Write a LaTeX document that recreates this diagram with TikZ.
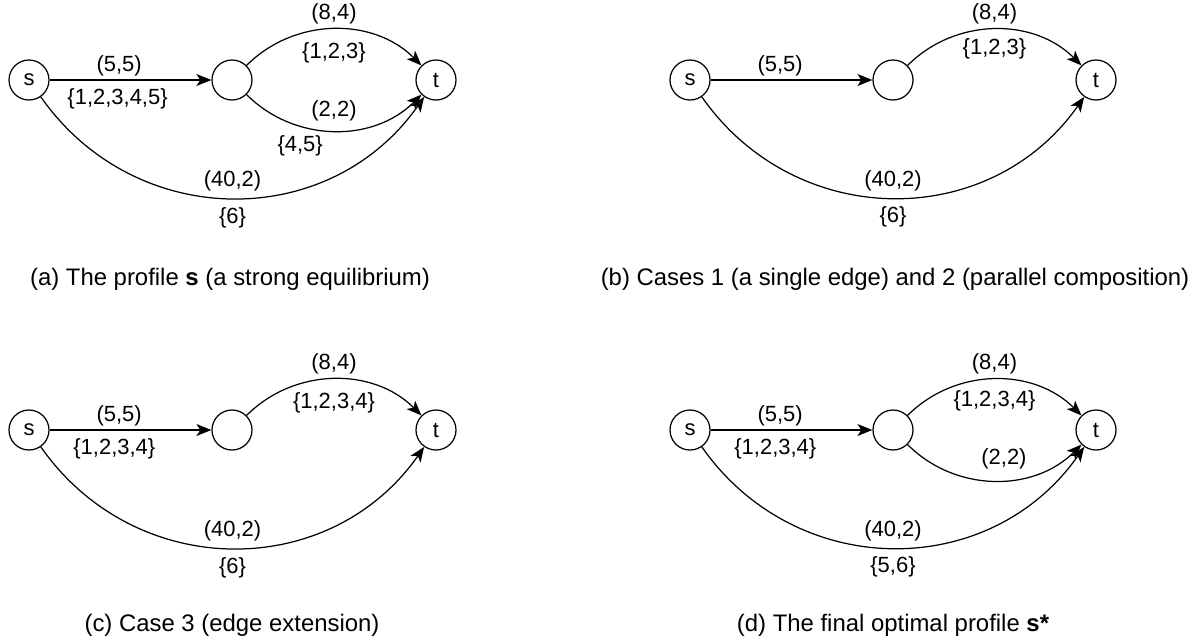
\documentclass[tikz,border=0pt]{standalone}
\usepackage{fontspec}
\setmainfont{Liberation Sans}
\usetikzlibrary{arrows.meta, positioning}

\begin{document}
\begin{tikzpicture}[
  vertex/.style={draw, circle, minimum size=0.8cm, inner sep=0pt, line width=0.7pt, font=\fontsize{12.5}{15}\selectfont},
  arr/.style={-{Stealth[length=8.5pt, width=6.8pt, inset=2.2pt]}, line width=0.7pt},
  lbl/.style={font=\fontsize{12.5}{15}\selectfont, inner sep=0pt},
  caption/.style={font=\fontsize{13.6}{16}\selectfont}
]
\useasboundingbox (0,0) rectangle (23.96,-12.86);

% (a)
\node[vertex] (sA) at (0.58,-1.6) {s};
\node[vertex] (vA) at (4.64,-1.6) {};
\node[vertex] (tA) at (8.72,-1.6) {t};
\draw[arr] (sA) -- node[lbl, pos=.43, above=1.7pt] {(5,5)} node[lbl, pos=.42, below=4.5pt] {\{1,2,3,4,5\}} (vA);
\draw[arr] (vA) to[bend left=45] node[lbl, above=2.8pt] {(8,4)} node[lbl, below=7.4pt] {\{1,2,3\}} (tA);
\draw[arr] (vA) to[bend right=45] node[lbl, above=5pt] {(2,2)} node[lbl, pos=.32, below=5pt] {\{4,5\}} (tA);
\draw[arr] (sA) to[bend right=55, looseness=1.1] node[lbl, above=3.4pt] {(40,2)} node[lbl, below=5pt] {\{6\}} (tA);
\node[caption] (capA) at (4.6,-5.58) {(a) The profile \textbf{s} (a strong equilibrium)};

% (b)
\node[vertex] (sB) at (13.8,-1.6) {s};
\node[vertex] (vB) at (17.86,-1.6) {};
\node[vertex] (tB) at (21.92,-1.6) {t};
\draw[arr] (sB) -- node[lbl, pos=.43, above=1.7pt] {(5,5)} (vB);
\draw[arr] (vB) to[bend left=45] node[lbl, above=2.8pt] {(8,4)} node[lbl, below=5pt] {\{1,2,3\}} (tB);
\draw[arr] (sB) to[bend right=55, looseness=1.1] node[lbl, above=3.4pt] {(40,2)} node[lbl, below=5pt] {\{6\}} (tB);
\node[caption] (capB) at (17.9,-5.58) {(b) Cases 1 (a single edge) and 2 (parallel composition)};

% (c)
\node[vertex] (sC) at (0.58,-8.6) {s};
\node[vertex] (vC) at (4.64,-8.6) {};
\node[vertex] (tC) at (8.72,-8.6) {t};
\draw[arr] (sC) -- node[lbl, pos=.43, above=1.7pt] {(5,5)} node[lbl, pos=.4, below=4.5pt] {\{1,2,3,4\}} (vC);
\draw[arr] (vC) to[bend left=45] node[lbl, above=2.8pt] {(8,4)} node[lbl, below=7.4pt] {\{1,2,3,4\}} (tC);
\draw[arr] (sC) to[bend right=55, looseness=1.1] node[lbl, above=3.4pt] {(40,2)} node[lbl, below=5pt] {\{6\}} (tC);
\node[caption] (capC) at (4.64,-12.5) {(c) Case 3 (edge extension)};

% (d)
\node[vertex] (sD) at (13.8,-8.6) {s};
\node[vertex] (vD) at (17.86,-8.6) {};
\node[vertex] (tD) at (21.92,-8.6) {t};
\draw[arr] (sD) -- node[lbl, pos=.43, above=1.7pt] {(5,5)} node[lbl, pos=.4, below=4.5pt] {\{1,2,3,4\}} (vD);
\draw[arr] (vD) to[bend left=45] node[lbl, above=2.8pt] {(8,4)} node[lbl, below=6pt] {\{1,2,3,4\}} (tD);
\draw[arr] (vD) to[bend right=45] node[lbl, pos=.55, above=6pt] {(2,2)} (tD);
\draw[arr] (sD) to[bend right=55, looseness=1.1] node[lbl, above=3.4pt] {(40,2)} node[lbl, below=5pt] {\{5,6\}} (tD);
\node[caption] (capD) at (17.86,-12.5) {(d) The final optimal profile \textbf{s*}};
\end{tikzpicture}
\end{document}
